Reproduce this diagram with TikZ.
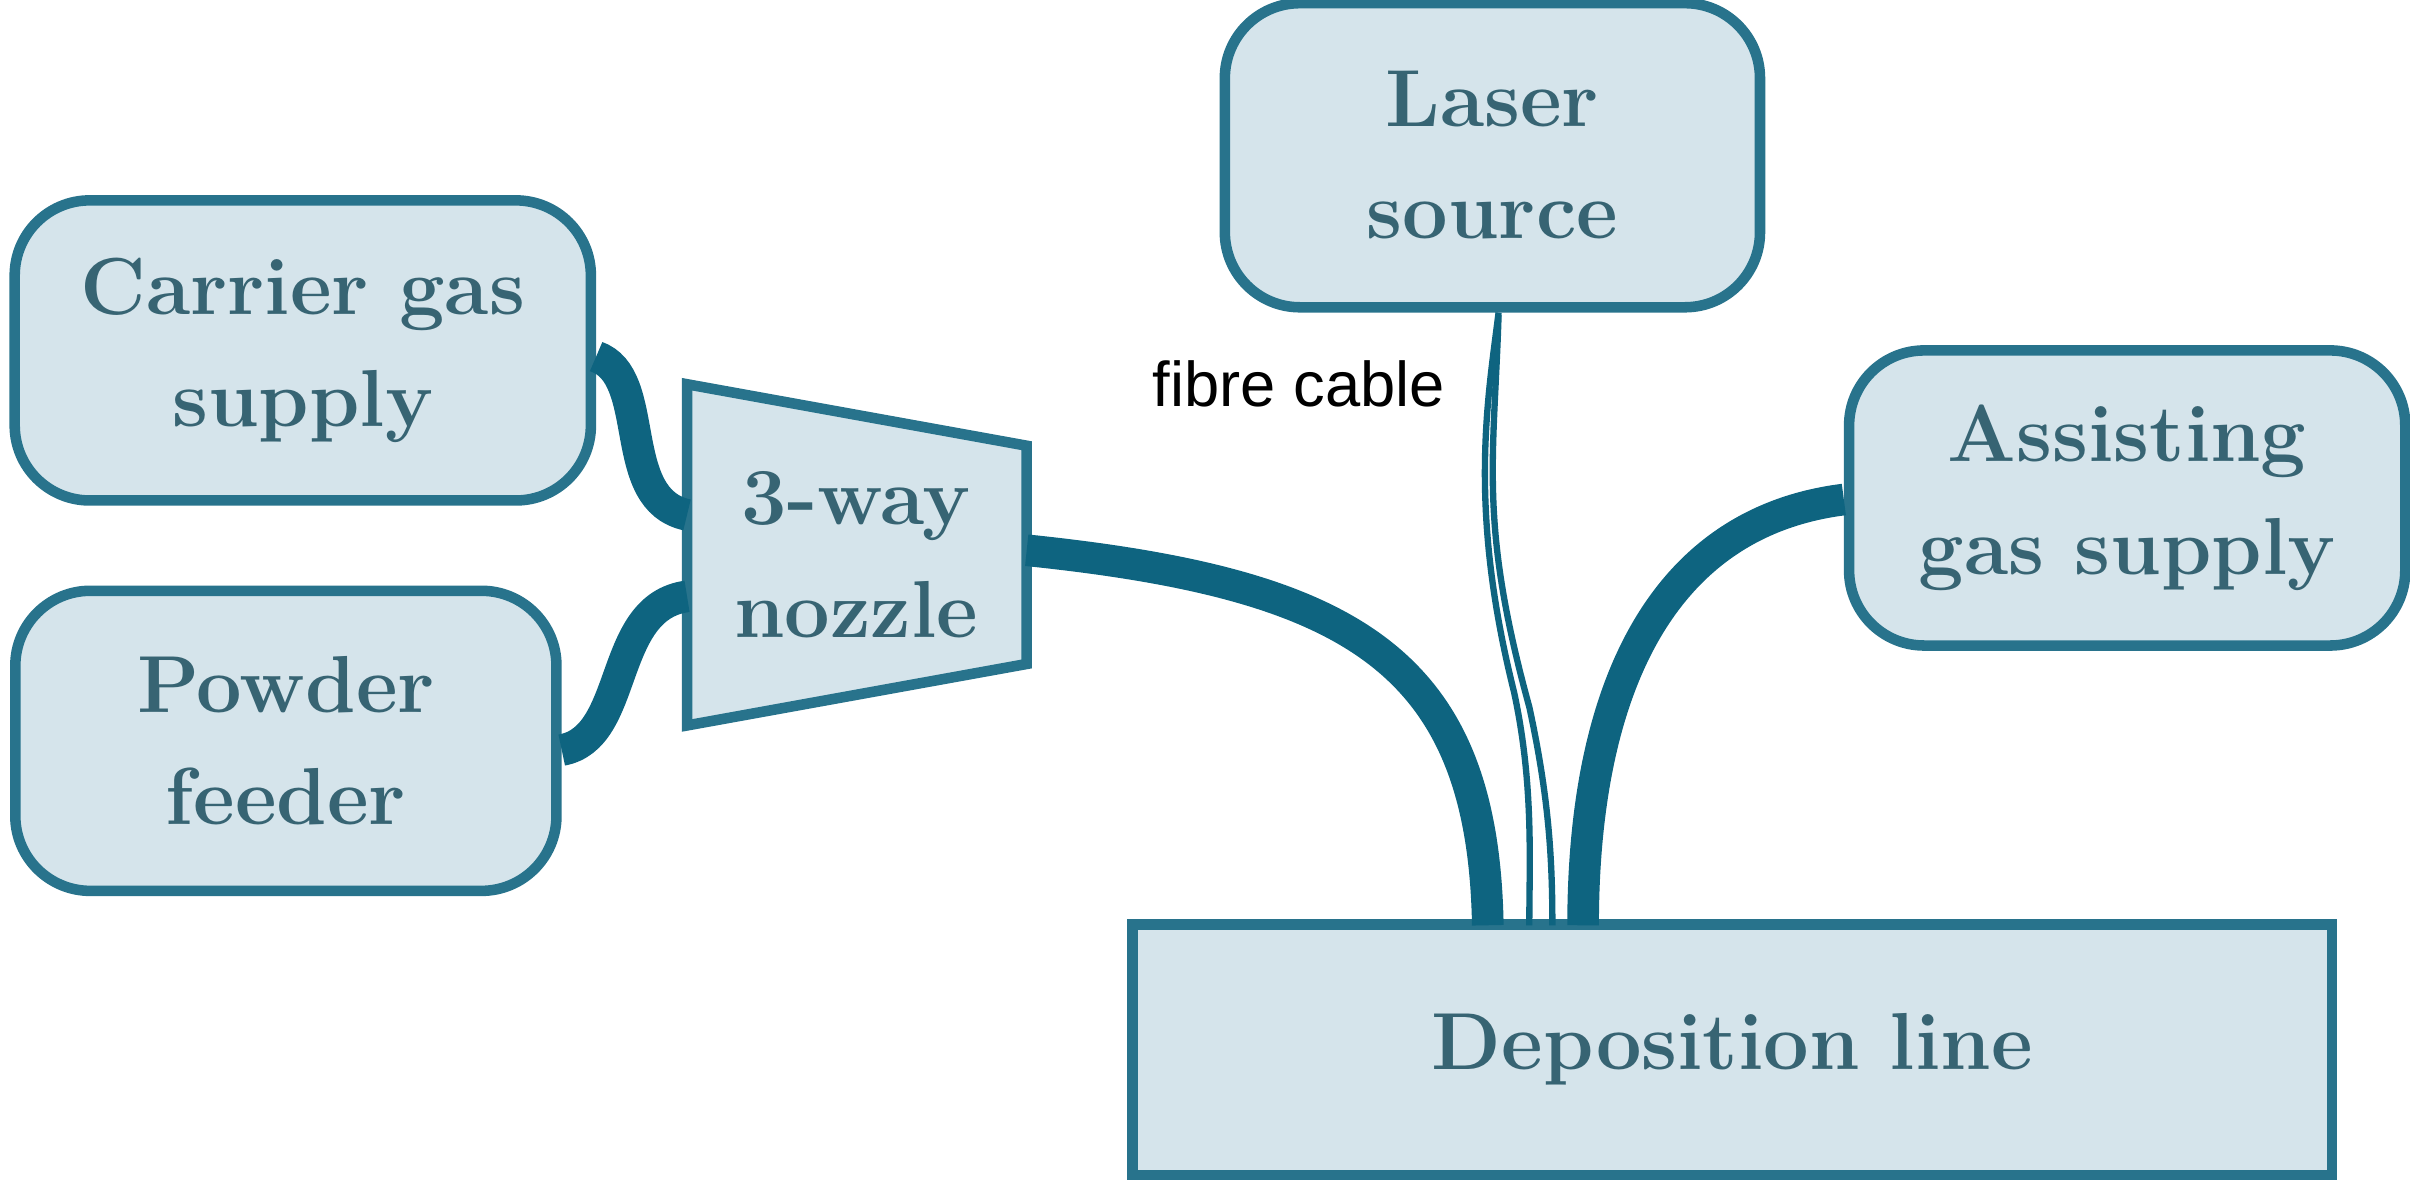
\documentclass[tikz,border=0pt]{standalone}
\usepackage{fontspec}
\newfontfamily\sansf{Liberation Sans}
\begin{document}
\begin{tikzpicture}[x=0.01537cm,y=-0.01537cm,
  box/.style={draw=bord,line width=3pt,fill=boxfill,rounded corners=0.75cm,align=center,inner sep=0pt,
    font=\fontsize{23}{32}\selectfont\bfseries,text=txt},
  cable/.style={draw=cab,line width=9pt},
  fibre/.style={draw=cab,line width=1.8pt}]
\definecolor{boxfill}{RGB}{213,228,235}
\definecolor{bord}{RGB}{40,115,140}
\definecolor{cab}{RGB}{14,100,128}
\definecolor{txt}{RGB}{55,100,115}
\useasboundingbox (0,0) rectangle (1568,774);
\node[box,minimum width=5.76cm,minimum height=3.0cm] (carrier) at (197,228) {Carrier gas\\supply};
\node[box,minimum width=5.41cm,minimum height=3.0cm] (powder) at (186,482) {Powder\\feeder};
\node[box,minimum width=5.35cm,minimum height=3.04cm] (laser) at (971,101) {Laser\\source};
\node[box,minimum width=5.56cm,minimum height=2.95cm] (assist) at (1384,324) {Assisting\\gas supply};
\node[box,rounded corners=0pt,minimum width=11.99cm,minimum height=2.5cm] (dep) at (1127,683) {Deposition line};
\draw[bord,fill=boxfill,line width=3pt] (447,250) -- (668,290) -- (668,432) -- (447,472) -- cycle;
\node[font=\fontsize{23}{32}\selectfont\bfseries,text=txt,align=center] (noz) at (557,361) {3-way\\nozzle};
\coordinate (nl1) at (447,335);
\coordinate (nl2) at (447,388);
\coordinate (nr) at (668,358);
\draw[cable] (carrier.east |- 0,232) .. controls (425,245) and (400,325) .. (nl1);
\draw[cable] (powder.east |- 0,488) .. controls (410,480) and (395,395) .. (nl2);
\draw[cable] (nr) .. controls (880,380) and (965,430) .. (968,602);
\draw[cable] (assist.west |- 0,325) .. controls (1080,340) and (1030,450) .. (1030,602);
\draw[fibre] (laser.south -| 975,0) .. controls (968,260) and (955,330) .. (985,450) .. controls (998,510) and (995,560) .. (995,602);
\draw[fibre] (975,205) .. controls (972,300) and (962,340) .. (995,460) .. controls (1008,520) and (1010,560) .. (1010,602);
\node[font=\sansf\fontsize{18}{22}\selectfont] (fl) at (845,250) {fibre cable};
\end{tikzpicture}
\end{document}
